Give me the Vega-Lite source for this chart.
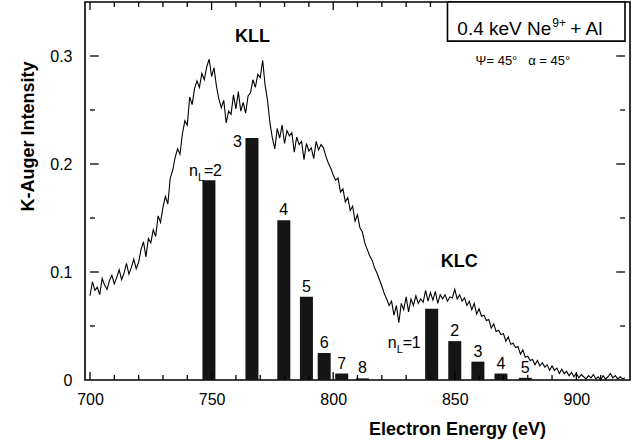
{
  "$schema": "https://vega.github.io/schema/vega-lite/v6.json",
  "width": 545,
  "height": 378,
  "autosize": {"type": "none"},
  "padding": {"left": 85, "top": 2, "right": 13, "bottom": 63},
  "background": "white",
  "config": {
    "view": {"stroke": "black", "strokeWidth": 1.6},
    "font": "Liberation Sans",
    "axis": {
      "domain": false,
      "grid": false,
      "ticks": false,
      "labelColor": "black",
      "labelFont": "Liberation Sans",
      "labelFontSize": 16,
      "labelOverlap": false,
      "labelFlush": false,
      "labelBound": false,
      "titleColor": "black",
      "titleFont": "Liberation Sans",
      "titleFontSize": 18,
      "titleFontWeight": "bold"
    },
    "text": {"font": "Liberation Sans", "color": "black"},
    "rule": {"color": "black", "strokeWidth": 1.3}
  },
  "datasets": {
    "spectrum": [
      {"e":700,"i":0.078},{"e":701,"i":0.091},{"e":702,"i":0.083},{"e":703,"i":0.086},{"e":704,"i":0.079},
      {"e":705,"i":0.094},{"e":706,"i":0.088},{"e":707,"i":0.084},{"e":708,"i":0.092},{"e":709,"i":0.097},
      {"e":710,"i":0.089},{"e":711,"i":0.095},{"e":712,"i":0.102},{"e":713,"i":0.093},{"e":714,"i":0.099},
      {"e":715,"i":0.108},{"e":716,"i":0.098},{"e":717,"i":0.104},{"e":718,"i":0.112},{"e":719,"i":0.103},
      {"e":720,"i":0.109},{"e":721,"i":0.121},{"e":722,"i":0.128},{"e":723,"i":0.114},{"e":724,"i":0.131},
      {"e":725,"i":0.127},{"e":726,"i":0.139},{"e":727,"i":0.133},{"e":728,"i":0.152},{"e":729,"i":0.146},
      {"e":730,"i":0.160},{"e":731,"i":0.170},{"e":732,"i":0.163},{"e":733,"i":0.187},{"e":734,"i":0.194},
      {"e":735,"i":0.206},{"e":736,"i":0.214},{"e":737,"i":0.209},{"e":738,"i":0.228},{"e":739,"i":0.240},
      {"e":740,"i":0.236},{"e":741,"i":0.262},{"e":742,"i":0.255},{"e":743,"i":0.270},{"e":744,"i":0.277},
      {"e":745,"i":0.271},{"e":746,"i":0.284},{"e":747,"i":0.278},{"e":748,"i":0.290},{"e":749,"i":0.297},
      {"e":750,"i":0.281},{"e":751,"i":0.289},{"e":752,"i":0.272},{"e":753,"i":0.260},{"e":754,"i":0.252},
      {"e":755,"i":0.259},{"e":756,"i":0.238},{"e":757,"i":0.249},{"e":758,"i":0.246},{"e":759,"i":0.264},
      {"e":760,"i":0.251},{"e":761,"i":0.267},{"e":762,"i":0.249},{"e":763,"i":0.257},{"e":764,"i":0.247},
      {"e":765,"i":0.263},{"e":766,"i":0.266},{"e":767,"i":0.278},{"e":768,"i":0.271},{"e":769,"i":0.283},
      {"e":770,"i":0.280},{"e":771,"i":0.296},{"e":772,"i":0.273},{"e":773,"i":0.259},{"e":774,"i":0.238},
      {"e":775,"i":0.224},{"e":776,"i":0.214},{"e":777,"i":0.233},{"e":778,"i":0.224},{"e":779,"i":0.236},
      {"e":780,"i":0.219},{"e":781,"i":0.231},{"e":782,"i":0.226},{"e":783,"i":0.229},{"e":784,"i":0.211},
      {"e":785,"i":0.225},{"e":786,"i":0.218},{"e":787,"i":0.221},{"e":788,"i":0.204},{"e":789,"i":0.219},
      {"e":790,"i":0.212},{"e":791,"i":0.215},{"e":792,"i":0.205},{"e":793,"i":0.221},{"e":794,"i":0.213},
      {"e":795,"i":0.218},{"e":796,"i":0.215},{"e":797,"i":0.207},{"e":798,"i":0.201},{"e":799,"i":0.196},
      {"e":800,"i":0.190},{"e":801,"i":0.185},{"e":802,"i":0.187},{"e":803,"i":0.174},{"e":804,"i":0.177},
      {"e":805,"i":0.165},{"e":806,"i":0.169},{"e":807,"i":0.157},{"e":808,"i":0.161},{"e":809,"i":0.147},
      {"e":810,"i":0.153},{"e":811,"i":0.141},{"e":812,"i":0.137},{"e":813,"i":0.127},{"e":814,"i":0.121},
      {"e":815,"i":0.115},{"e":816,"i":0.111},{"e":817,"i":0.104},{"e":818,"i":0.099},{"e":819,"i":0.093},
      {"e":820,"i":0.087},{"e":821,"i":0.080},{"e":822,"i":0.075},{"e":823,"i":0.069},{"e":824,"i":0.073},
      {"e":825,"i":0.060},{"e":826,"i":0.069},{"e":827,"i":0.053},{"e":828,"i":0.071},{"e":829,"i":0.065},
      {"e":830,"i":0.077},{"e":831,"i":0.063},{"e":832,"i":0.075},{"e":833,"i":0.069},{"e":834,"i":0.078},
      {"e":835,"i":0.071},{"e":836,"i":0.075},{"e":837,"i":0.072},{"e":838,"i":0.083},{"e":839,"i":0.073},
      {"e":840,"i":0.081},{"e":841,"i":0.074},{"e":842,"i":0.082},{"e":843,"i":0.071},{"e":844,"i":0.079},
      {"e":845,"i":0.075},{"e":846,"i":0.079},{"e":847,"i":0.073},{"e":848,"i":0.077},{"e":849,"i":0.076},
      {"e":850,"i":0.084},{"e":851,"i":0.075},{"e":852,"i":0.079},{"e":853,"i":0.073},{"e":854,"i":0.076},
      {"e":855,"i":0.069},{"e":856,"i":0.073},{"e":857,"i":0.065},{"e":858,"i":0.071},{"e":859,"i":0.061},
      {"e":860,"i":0.066},{"e":861,"i":0.059},{"e":862,"i":0.060},{"e":863,"i":0.055},{"e":864,"i":0.056},
      {"e":865,"i":0.048},{"e":866,"i":0.052},{"e":867,"i":0.045},{"e":868,"i":0.046},{"e":869,"i":0.042},
      {"e":870,"i":0.043},{"e":871,"i":0.036},{"e":872,"i":0.040},{"e":873,"i":0.033},{"e":874,"i":0.034},
      {"e":875,"i":0.030},{"e":876,"i":0.031},{"e":877,"i":0.024},{"e":878,"i":0.028},{"e":879,"i":0.021},
      {"e":880,"i":0.022},{"e":881,"i":0.018},{"e":882,"i":0.019},{"e":883,"i":0.014},{"e":884,"i":0.018},
      {"e":885,"i":0.013},{"e":886,"i":0.016},{"e":887,"i":0.012},{"e":888,"i":0.014},{"e":889,"i":0.009},
      {"e":890,"i":0.013},{"e":891,"i":0.009},{"e":892,"i":0.011},{"e":893,"i":0.006},{"e":894,"i":0.010},
      {"e":895,"i":0.006},{"e":896,"i":0.008},{"e":897,"i":0.004},{"e":898,"i":0.007},{"e":899,"i":0.003},
      {"e":900,"i":0.006},{"e":901,"i":0.002},{"e":902,"i":0.005},{"e":903,"i":0.003},{"e":904,"i":0.001},
      {"e":905,"i":0.004},{"e":906,"i":0.002},{"e":907,"i":0.005},{"e":908,"i":0.001},{"e":909,"i":0.003},
      {"e":910,"i":0.000},{"e":911,"i":0.004},{"e":912,"i":0.001},{"e":913,"i":0.003},{"e":914,"i":0.006},
      {"e":915,"i":0.002},{"e":916,"i":0.004},{"e":917,"i":0.001},{"e":918,"i":0.003},{"e":919,"i":0.001},
      {"e":920,"i":0.002}
    ],
    "lines": [
      {"series":"KLL","nL":2,"e":748.9,"i":0.185},
      {"series":"KLL","nL":3,"e":766.6,"i":0.224},
      {"series":"KLL","nL":4,"e":779.7,"i":0.148},
      {"series":"KLL","nL":5,"e":789.0,"i":0.077},
      {"series":"KLL","nL":6,"e":796.3,"i":0.025},
      {"series":"KLL","nL":7,"e":803.5,"i":0.006},
      {"series":"KLL","nL":8,"e":812.0,"i":0.0015},
      {"series":"KLC","nL":1,"e":840.5,"i":0.066},
      {"series":"KLC","nL":2,"e":850.0,"i":0.036},
      {"series":"KLC","nL":3,"e":859.5,"i":0.017},
      {"series":"KLC","nL":4,"e":869.0,"i":0.006},
      {"series":"KLC","nL":5,"e":879.0,"i":0.002}
    ],
    "xMajor": [{"v":700},{"v":750},{"v":800},{"v":850},{"v":900}],
    "xMinor": [
      {"v":710},{"v":720},{"v":730},{"v":740},{"v":760},{"v":770},{"v":780},{"v":790},
      {"v":810},{"v":820},{"v":830},{"v":840},{"v":860},{"v":870},{"v":880},{"v":890},{"v":910}
    ],
    "yMajor": [{"v":0.1},{"v":0.2},{"v":0.3}],
    "yMinor": [{"v":0.05},{"v":0.15},{"v":0.25}],
    "one": [{}]
  },
  "layer": [
    {
      "data": {"name": "spectrum"},
      "mark": {"type": "line", "color": "black", "strokeWidth": 1.1},
      "encoding": {
        "x": {
          "field": "e", "type": "quantitative",
          "scale": {"domain": [700, 920], "nice": false, "zero": false},
          "axis": {
            "orient": "bottom",
            "values": [700, 750, 800, 850, 900],
            "labelPadding": 11,
            "title": "Electron Energy (eV)",
            "titleX": 372,
            "titleY": 54,
            "titleBaseline": "alphabetic"
          }
        },
        "y": {
          "field": "i", "type": "quantitative",
          "scale": {"domain": [0, 0.35], "nice": false, "zero": false},
          "axis": {
            "orient": "left",
            "values": [0, 0.1, 0.2, 0.3],
            "format": ".1~f",
            "labelPadding": 13,
            "title": "K-Auger Intensity",
            "titleX": -52,
            "titleY": 134,
            "titleBaseline": "alphabetic"
          }
        }
      }
    },
    {
      "data": {"name": "lines"},
      "mark": {"type": "bar", "color": "#151515", "size": 13, "orient": "vertical"},
      "encoding": {
        "x": {"field": "e", "type": "quantitative"},
        "y": {"field": "i", "type": "quantitative"}
      }
    },
    {
      "data": {"name": "xMinor"},
      "encoding": {"x": {"field": "v", "type": "quantitative"}},
      "layer": [
        {"mark": "rule", "encoding": {"y": {"datum": 0, "type": "quantitative"}, "y2": {"datum": 0.0046}}},
        {"mark": "rule", "encoding": {"y": {"datum": 0.35, "type": "quantitative"}, "y2": {"datum": 0.3454}}}
      ]
    },
    {
      "data": {"name": "xMajor"},
      "encoding": {"x": {"field": "v", "type": "quantitative"}},
      "layer": [
        {"mark": "rule", "encoding": {"y": {"datum": 0, "type": "quantitative"}, "y2": {"datum": 0.0074}}},
        {"mark": "rule", "encoding": {"y": {"datum": 0.35, "type": "quantitative"}, "y2": {"datum": 0.3426}}}
      ]
    },
    {
      "data": {"name": "yMinor"},
      "encoding": {"y": {"field": "v", "type": "quantitative"}},
      "layer": [
        {"mark": "rule", "encoding": {"x": {"datum": 700, "type": "quantitative"}, "x2": {"datum": 702.0}}},
        {"mark": "rule", "encoding": {"x": {"datum": 920, "type": "quantitative"}, "x2": {"datum": 918.0}}}
      ]
    },
    {
      "data": {"name": "yMajor"},
      "encoding": {"y": {"field": "v", "type": "quantitative"}},
      "layer": [
        {"mark": "rule", "encoding": {"x": {"datum": 700, "type": "quantitative"}, "x2": {"datum": 703.6}}},
        {"mark": "rule", "encoding": {"x": {"datum": 920, "type": "quantitative"}, "x2": {"datum": 916.4}}}
      ]
    },
    {
      "data": {"name": "lines"},
      "transform": [{"filter": "(datum.series === 'KLL' && datum.nL > 3) || (datum.series === 'KLC' && datum.nL > 1)"}],
      "mark": {"type": "text", "fontSize": 16, "baseline": "alphabetic", "align": "center", "dy": -5},
      "encoding": {
        "x": {"field": "e", "type": "quantitative"},
        "y": {"field": "i", "type": "quantitative"},
        "text": {"field": "nL", "type": "nominal"}
      }
    },
    {
      "data": {"name": "lines"},
      "transform": [{"filter": "datum.series === 'KLL' && datum.nL === 3"}],
      "mark": {"type": "text", "fontSize": 16, "baseline": "alphabetic", "align": "right", "dx": -10, "dy": 9},
      "encoding": {
        "x": {"field": "e", "type": "quantitative"},
        "y": {"field": "i", "type": "quantitative"},
        "text": {"field": "nL", "type": "nominal"}
      }
    },
    {
      "data": {"name": "lines"},
      "transform": [{"filter": "datum.series === 'KLL' && datum.nL === 2"}],
      "encoding": {
        "x": {"field": "e", "type": "quantitative"},
        "y": {"field": "i", "type": "quantitative"}
      },
      "layer": [
        {"mark": {"type": "text", "text": "n", "fontSize": 16, "baseline": "alphabetic", "align": "right", "dx": -11, "dy": -4}},
        {"mark": {"type": "text", "text": "L", "fontSize": 11, "baseline": "alphabetic", "align": "left", "dx": -11, "dy": 1}},
        {"mark": {"type": "text", "text": "=", "fontSize": 16, "baseline": "alphabetic", "align": "left", "dx": -5, "dy": -4}},
        {"mark": {"type": "text", "fontSize": 16, "baseline": "alphabetic", "align": "left", "dx": 4, "dy": -4},
         "encoding": {"text": {"field": "nL", "type": "nominal"}}}
      ]
    },
    {
      "data": {"name": "lines"},
      "transform": [{"filter": "datum.series === 'KLC' && datum.nL === 1"}],
      "encoding": {
        "x": {"field": "e", "type": "quantitative"},
        "y": {"field": "i", "type": "quantitative"}
      },
      "layer": [
        {"mark": {"type": "text", "text": "n", "fontSize": 16, "baseline": "alphabetic", "align": "right", "dx": -35, "dy": 39}},
        {"mark": {"type": "text", "text": "L", "fontSize": 11, "baseline": "alphabetic", "align": "left", "dx": -35, "dy": 44}},
        {"mark": {"type": "text", "text": "=", "fontSize": 16, "baseline": "alphabetic", "align": "left", "dx": -29, "dy": 39}},
        {"mark": {"type": "text", "fontSize": 16, "baseline": "alphabetic", "align": "left", "dx": -20, "dy": 39},
         "encoding": {"text": {"field": "nL", "type": "nominal"}}}
      ]
    },
    {
      "data": {"name": "one"},
      "layer": [
        {
          "mark": {"type": "text", "text": "KLL", "fontSize": 18, "fontWeight": "bold", "baseline": "alphabetic", "align": "center"},
          "encoding": {
            "x": {"datum": 766.8, "type": "quantitative"},
            "y": {"datum": 0.3134, "type": "quantitative"}
          }
        },
        {
          "mark": {"type": "text", "text": "KLC", "fontSize": 18, "fontWeight": "bold", "baseline": "alphabetic", "align": "center"},
          "encoding": {
            "x": {"datum": 851.8, "type": "quantitative"},
            "y": {"datum": 0.1046, "type": "quantitative"}
          }
        },
        {
          "mark": {"type": "rect", "fill": "white", "stroke": "black", "strokeWidth": 1.6},
          "encoding": {
            "x": {"datum": 847.0, "type": "quantitative"},
            "x2": {"datum": 920},
            "y": {"datum": 0.3138, "type": "quantitative"},
            "y2": {"datum": 0.35}
          }
        },
        {
          "mark": {"type": "text", "text": "0.4 keV Ne", "fontSize": 19, "baseline": "alphabetic", "align": "right"},
          "encoding": {
            "x": {"datum": 889.7, "type": "quantitative"},
            "y": {"datum": 0.3193, "type": "quantitative"}
          }
        },
        {
          "mark": {"type": "text", "text": "9+", "fontSize": 12, "baseline": "alphabetic", "align": "left", "dx": 1, "dy": -8},
          "encoding": {
            "x": {"datum": 889.7, "type": "quantitative"},
            "y": {"datum": 0.3193, "type": "quantitative"}
          }
        },
        {
          "mark": {"type": "text", "text": "+ Al", "fontSize": 19, "baseline": "alphabetic", "align": "right"},
          "encoding": {
            "x": {"datum": 910.7, "type": "quantitative"},
            "y": {"datum": 0.3193, "type": "quantitative"}
          }
        },
        {
          "mark": {"type": "text", "text": "Ψ= 45°\u00a0\u00a0\u00a0α = 45°", "fontSize": 13, "baseline": "alphabetic", "align": "center"},
          "encoding": {
            "x": {"datum": 878.0, "type": "quantitative"},
            "y": {"datum": 0.2917, "type": "quantitative"}
          }
        }
      ]
    }
  ]
}
